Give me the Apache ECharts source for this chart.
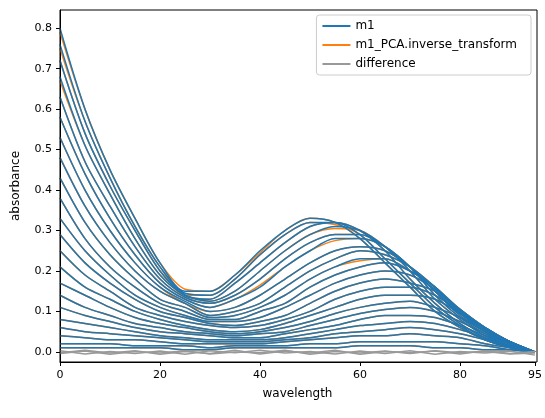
<!DOCTYPE html>
<html>
<head>
<meta charset="utf-8">
<script src="https://cdn.jsdelivr.net/npm/echarts@6/dist/echarts.min.js"></script>
<style>html,body{margin:0;background:#fff}#c{width:545px;height:418px}</style>
</head>
<body>
<div id="c"></div>
<script>
// wavelength grid (every 5 points)
var wavelengths = [0,5,10,15,20,25,30,35,40,45,50,55,60,65,70,75,80,85,90,95];

// m1 spectra
var m1 = [
  [.80,.60,.45,.33,.22,.15,.15,.19,.25,.30,.33,.32,.28,.22,.16,.10,.06,.03,.01,.00],
  [.76,.57,.43,.31,.21,.145,.14,.18,.24,.29,.32,.32,.29,.23,.17,.11,.065,.03,.012,.00],
  [.72,.54,.41,.30,.20,.14,.13,.17,.22,.27,.31,.32,.30,.25,.18,.12,.07,.035,.013,.00],
  [.68,.51,.39,.28,.19,.14,.125,.15,.20,.25,.29,.31,.30,.26,.20,.13,.08,.04,.015,.00],
  [.63,.47,.36,.26,.18,.135,.12,.14,.18,.23,.27,.29,.29,.26,.21,.14,.085,.045,.015,.00],
  [.58,.44,.33,.24,.17,.13,.11,.13,.16,.21,.25,.28,.28,.26,.21,.15,.09,.05,.02,.00],
  [.53,.40,.30,.22,.16,.125,.10,.11,.14,.18,.22,.25,.26,.25,.21,.15,.095,.05,.02,.00],
  [.48,.36,.27,.20,.15,.12,.09,.10,.12,.16,.20,.23,.25,.24,.21,.16,.10,.055,.02,.00],
  [.43,.32,.24,.18,.13,.11,.085,.09,.11,.14,.18,.21,.23,.23,.20,.16,.10,.055,.02,.00],
  [.38,.28,.21,.16,.12,.10,.08,.08,.10,.12,.16,.19,.21,.22,.20,.16,.105,.06,.025,.00],
  [.33,.25,.19,.14,.11,.09,.075,.075,.085,.11,.14,.17,.19,.20,.19,.155,.105,.06,.025,.00],
  [.29,.22,.17,.13,.10,.085,.07,.065,.075,.09,.12,.15,.17,.18,.17,.15,.10,.06,.025,.00],
  [.25,.19,.15,.11,.09,.075,.065,.06,.065,.08,.10,.13,.15,.16,.16,.14,.10,.06,.025,.00],
  [.21,.16,.13,.10,.08,.065,.055,.05,.055,.07,.09,.11,.13,.14,.14,.13,.095,.055,.025,.00],
  [.17,.14,.11,.085,.07,.06,.05,.045,.05,.06,.075,.095,.11,.12,.125,.11,.085,.05,.02,.00],
  [.14,.11,.09,.07,.06,.05,.045,.04,.045,.05,.065,.08,.095,.105,.11,.10,.075,.045,.02,.00],
  [.11,.09,.075,.06,.05,.045,.04,.035,.035,.045,.055,.065,.08,.09,.09,.085,.065,.04,.02,.00],
  [.08,.07,.06,.05,.04,.035,.03,.03,.03,.035,.045,.055,.065,.07,.075,.07,.055,.035,.015,.00],
  [.06,.05,.045,.04,.035,.03,.025,.025,.025,.03,.035,.045,.05,.055,.06,.055,.045,.03,.012,.00],
  [.04,.035,.03,.03,.025,.02,.02,.02,.02,.025,.03,.035,.04,.04,.045,.04,.035,.02,.01,.00],
  [.02,.02,.02,.015,.015,.015,.01,.015,.015,.015,.02,.02,.025,.025,.025,.025,.02,.015,.005,.00],
  [.01,.01,.01,.01,.01,.005,.005,.01,.01,.01,.01,.01,.015,.015,.015,.01,.01,.005,.005,.00]
];

// PCA reconstruction, slightly smoother than m1 in a few places
var recon = [
  [.79,.60,.45,.33,.22,.155,.15,.19,.245,.30,.33,.32,.28,.22,.16,.10,.06,.03,.01,.00],
  [.75,.57,.43,.31,.21,.14,.14,.18,.24,.29,.32,.315,.29,.23,.17,.11,.065,.03,.012,.00],
  [.72,.54,.41,.30,.20,.14,.13,.17,.22,.27,.31,.32,.30,.25,.18,.12,.07,.035,.013,.00],
  [.67,.51,.39,.28,.19,.14,.125,.15,.20,.25,.29,.305,.30,.26,.20,.13,.08,.04,.015,.00],
  [.63,.47,.36,.26,.18,.135,.12,.14,.18,.23,.27,.29,.29,.26,.21,.14,.085,.045,.015,.00],
  [.58,.44,.33,.24,.17,.13,.11,.13,.165,.21,.25,.275,.28,.26,.21,.15,.09,.05,.02,.00],
  [.53,.40,.30,.22,.16,.12,.10,.11,.14,.18,.22,.25,.26,.25,.21,.15,.095,.05,.02,.00],
  [.48,.36,.27,.20,.15,.12,.09,.10,.12,.16,.20,.23,.25,.24,.21,.16,.10,.055,.02,.00],
  [.43,.32,.24,.18,.13,.11,.085,.09,.11,.14,.18,.21,.225,.23,.20,.16,.10,.055,.02,.00],
  [.38,.28,.21,.16,.12,.10,.08,.08,.10,.12,.16,.19,.21,.22,.20,.16,.105,.06,.025,.00],
  [.33,.25,.19,.14,.11,.09,.075,.075,.085,.11,.14,.17,.19,.20,.19,.155,.105,.06,.025,.00],
  [.29,.22,.17,.13,.10,.085,.07,.065,.075,.09,.12,.15,.17,.18,.17,.15,.10,.06,.025,.00],
  [.25,.19,.15,.11,.09,.075,.065,.06,.065,.08,.10,.13,.15,.16,.16,.14,.10,.06,.025,.00],
  [.21,.16,.13,.10,.08,.065,.055,.05,.055,.07,.09,.11,.13,.14,.14,.13,.095,.055,.025,.00],
  [.17,.14,.11,.085,.07,.06,.05,.045,.05,.06,.075,.095,.11,.12,.125,.11,.085,.05,.02,.00],
  [.14,.11,.09,.07,.06,.05,.045,.04,.045,.05,.065,.08,.095,.105,.11,.10,.075,.045,.02,.00],
  [.11,.09,.075,.06,.05,.045,.04,.035,.035,.045,.055,.065,.08,.09,.09,.085,.065,.04,.02,.00],
  [.08,.07,.06,.05,.04,.035,.03,.03,.03,.035,.045,.055,.065,.07,.075,.07,.055,.035,.015,.00],
  [.06,.05,.045,.04,.035,.03,.025,.025,.025,.03,.035,.045,.05,.055,.06,.055,.045,.03,.012,.00],
  [.04,.035,.03,.03,.025,.02,.02,.02,.02,.025,.03,.035,.04,.04,.045,.04,.035,.02,.01,.00],
  [.02,.02,.02,.015,.015,.015,.01,.015,.015,.015,.02,.02,.025,.025,.025,.025,.02,.015,.005,.00],
  [.01,.01,.01,.01,.01,.005,.005,.01,.01,.01,.01,.01,.015,.015,.015,.01,.01,.005,.005,.00]
];

// residuals (m1 - reconstruction), small noise around zero
var difference = [
  [-.004,.002,-.006,.001,-.003,.003,-.005,.000,-.002,.004,-.006,.001,-.003,.002,-.004,.003,-.002,.001,-.005,-.003],
  [.003,-.005,.001,-.004,.002,-.006,.003,-.002,.004,-.003,.001,-.005,.002,-.004,.003,-.006,.001,-.003,.002,-.008],
  [-.002,.004,-.003,.003,-.006,.001,-.004,.004,-.005,.002,-.003,.004,-.006,.001,-.002,.002,-.005,.003,-.004,.001]
];

function pairs(arr) {
  return arr.map(function (v, i) { return [wavelengths[i], v]; });
}

var series = [];
recon.forEach(function (row) {
  series.push({name: 'm1_PCA.inverse_transform', type: 'line', data: pairs(row), showSymbol: false, silent: true,
    smooth: 0.3, lineStyle: {color: '#ff7f0e', width: 1.5}, itemStyle: {color: '#ff7f0e'}, z: 2});
});
m1.forEach(function (row) {
  series.push({name: 'm1', type: 'line', data: pairs(row), showSymbol: false, silent: true,
    smooth: 0.3, lineStyle: {color: '#1f77b4', width: 1.5}, itemStyle: {color: '#1f77b4'}, z: 3});
});
difference.forEach(function (row) {
  series.push({name: 'difference', type: 'line', data: pairs(row), showSymbol: false, silent: true,
    lineStyle: {color: '#999999', width: 1.5}, itemStyle: {color: '#999999'}, z: 4});
});

var yTicks = [0, 0.1, 0.2, 0.3, 0.4, 0.5, 0.6, 0.7, 0.8];

var chart = echarts.init(document.getElementById('c'));
chart.setOption({
  animation: false,
  textStyle: {fontFamily: 'DejaVu Sans'},
  grid: {left: 60, right: 8, top: 10, bottom: 56},
  legend: {
    orient: 'vertical', right: 14, top: 15,
    data: ['m1', 'm1_PCA.inverse_transform', 'difference'],
    icon: 'rect', itemWidth: 28, itemHeight: 2, itemGap: 7,
    textStyle: {fontSize: 12, color: '#000'},
    borderColor: '#cccccc', borderWidth: 1, borderRadius: 3,
    backgroundColor: 'rgba(255,255,255,0.8)', padding: [5, 14, 5, 6]
  },
  xAxis: {
    type: 'value', min: 0, max: 95, interval: 20,
    name: 'wavelength', nameLocation: 'middle', nameGap: 26,
    nameTextStyle: {fontSize: 12, color: '#000'},
    axisLine: {onZero: false, lineStyle: {color: '#000'}},
    axisTick: {show: true, length: 4, lineStyle: {color: '#000'}},
    axisLabel: {color: '#000', fontSize: 11},
    splitLine: {show: false}
  },
  yAxis: {
    type: 'value', min: -0.025, max: 0.845,
    name: 'absorbance', nameLocation: 'middle', nameGap: 38,
    nameTextStyle: {fontSize: 12, color: '#000'},
    axisLine: {show: true, onZero: false, lineStyle: {color: '#000'}},
    axisTick: {show: true, length: 4, customValues: yTicks, lineStyle: {color: '#000'}},
    axisLabel: {color: '#000', fontSize: 11, customValues: yTicks,
      formatter: function (v) { return v.toFixed(1); }},
    splitLine: {show: false}
  },
  series: series
});
// top/right frame like matplotlib
chart.setOption({graphic: [{type: 'rect', silent: true, z: 100,
  shape: {x: 60, y: 10, width: 545 - 68, height: 418 - 66},
  style: {fill: 'none', stroke: '#000', lineWidth: 1}}]});
</script>
</body>
</html>
